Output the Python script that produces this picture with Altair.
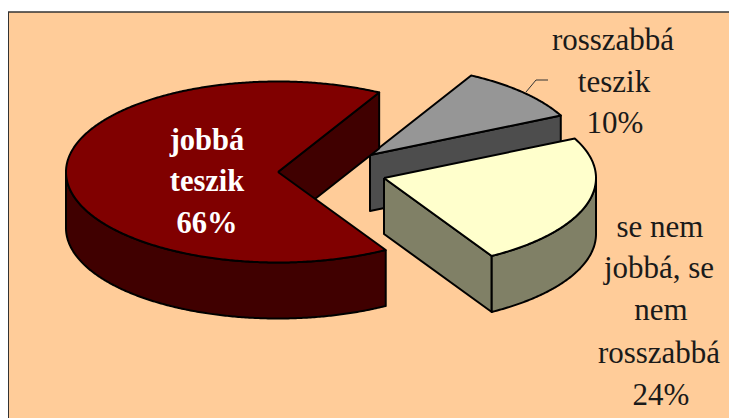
import numpy as np
import pandas as pd
import altair as alt

# --- chart values
categories = ["jobbá teszik", "rosszabbá teszik", "se nem jobbá, se nem rosszabbá"]
shares = [66.4, 9.9, 23.7]   # slice sizes as measured; the printed labels round them
top_colors = ["#800000", "#969696", "#FFFFCC"]
wall_colors = ["#400000", "#4D4D4D", "#808066"]

# --- drawing of the tilted pie (page pixels)
first_angle = 28.5       # clockwise from 12 o'clock, where the grey slice starts
radius_x, radius_y, depth = 212, 90.5, 56
centers = {"red": (278, 172), "grey": (370, 155), "yellow": (384, 178)}

label_lines = ["jobbá", "teszik", "66%", "rosszabbá", "teszik", "10%",
               "se nem", "jobbá, se", "nem", "rosszabbá", "24%"]
label_x = [207, 207, 207, 613, 614, 615, 660, 659, 661, 659, 661]
label_y = [150, 191, 233, 50, 92, 133, 237, 278, 320, 363, 405]
label_colors = ["white"] * 3 + ["#1a1a1a"] * 8
label_weights = ["bold"] * 3 + ["normal"] * 8

leader_x = [526, 536, 548]
leader_y = [92, 80, 80]

X = alt.Scale(domain=[8, 729], nice=False, zero=False)
Y = alt.Scale(domain=[418, 8], nice=False, zero=False)


def rim(c, a0, a1, drop=0):
    t = np.radians(np.linspace(a0, a1, max(int(abs(a1 - a0)) * 2, 2)))
    return list(zip(c[0] + radius_x * np.sin(t), c[1] - radius_y * np.cos(t) + drop))


def poly(points, fill, stroke_width=2):
    pts = list(points) + [points[0]]
    df = pd.DataFrame({"x": [p[0] for p in pts], "y": [p[1] for p in pts], "seq": range(len(pts))})
    return alt.Chart(df).mark_line(
        fill=fill, stroke="black", strokeWidth=stroke_width, strokeJoin="round", clip=False
    ).encode(
        x=alt.X("x:Q", scale=X, axis=None),
        y=alt.Y("y:Q", scale=Y, axis=None),
        order=alt.Order("seq:Q"),
    )


def cut_wall(c, angle, fill):
    e = rim(c, angle, angle + 1)[0]
    return poly([c, e, (e[0], e[1] + depth), (c[0], c[1] + depth)], fill)


def outer_wall(c, a0, a1, fill):
    return poly(rim(c, a0, a1) + rim(c, a1, a0, depth), fill)


def top(c, a0, a1, fill):
    return poly([c] + rim(c, a0, a1), fill)


grey_a0 = first_angle
grey_a1 = grey_a0 + shares[1] * 3.6
yellow_a1 = grey_a1 + shares[2] * 3.6
red_a1 = yellow_a1 + shares[0] * 3.6

bg = alt.Chart(pd.DataFrame({"x": [8], "x2": [729], "y": [12], "y2": [418]})).mark_rect(
    fill="#FFCC99", stroke=None
).encode(x=alt.X("x:Q", scale=X, axis=None), x2="x2:Q",
         y=alt.Y("y:Q", scale=Y, axis=None), y2="y2:Q")

top_rule = alt.Chart(pd.DataFrame({"x": [8, 729], "y": [12, 12]})).mark_line(
    color="#333333", strokeWidth=1.5
).encode(x=alt.X("x:Q", scale=X, axis=None), y=alt.Y("y:Q", scale=Y, axis=None))
left_rule = alt.Chart(pd.DataFrame({"x": [8, 8], "y": [12, 418]})).mark_line(
    color="#333333", strokeWidth=2
).encode(x=alt.X("x:Q", scale=X, axis=None), y=alt.Y("y:Q", scale=Y, axis=None))

leader = alt.Chart(pd.DataFrame({"x": leader_x, "y": leader_y, "seq": range(3)})).mark_line(
    color="#333333", strokeWidth=1
).encode(x=alt.X("x:Q", scale=X, axis=None), y=alt.Y("y:Q", scale=Y, axis=None), order="seq:Q")

labels_df = pd.DataFrame({"t": label_lines, "x": label_x, "y": label_y,
                          "c": label_colors, "w": label_weights})
bold = alt.Chart(labels_df[labels_df.w == "bold"]).mark_text(
    font="Liberation Serif", fontSize=30.5, fontWeight="bold", align="center",
    baseline="alphabetic", color="white"
).encode(x=alt.X("x:Q", scale=X, axis=None), y=alt.Y("y:Q", scale=Y, axis=None), text="t:N")
plain = alt.Chart(labels_df[labels_df.w == "normal"]).mark_text(
    font="Liberation Serif", fontSize=31, align="center",
    baseline="alphabetic", color="#1a1a1a"
).encode(x=alt.X("x:Q", scale=X, axis=None), y=alt.Y("y:Q", scale=Y, axis=None), text="t:N")

c_r, c_g, c_y = centers["red"], centers["grey"], centers["yellow"]
layers = [
    bg, top_rule, left_rule,
    cut_wall(c_g, grey_a1, wall_colors[1]),
    top(c_g, grey_a0, grey_a1, top_colors[1]),
    leader,
    cut_wall(c_r, grey_a0, wall_colors[0]),
    outer_wall(c_r, yellow_a1, 270, wall_colors[0]),
    top(c_r, yellow_a1, red_a1, top_colors[0]),
    cut_wall(c_y, yellow_a1, wall_colors[2]),
    outer_wall(c_y, 90, yellow_a1, wall_colors[2]),
    top(c_y, grey_a1, yellow_a1, top_colors[2]),
    bold, plain,
]

chart = alt.layer(*layers).properties(
    width=721, height=410, padding=0, background="white",
    autosize=alt.AutoSizeParams(type="none"),
).configure_view(stroke=None)

chart.save("out.html", embed_options={"renderer": "svg", "actions": False})
